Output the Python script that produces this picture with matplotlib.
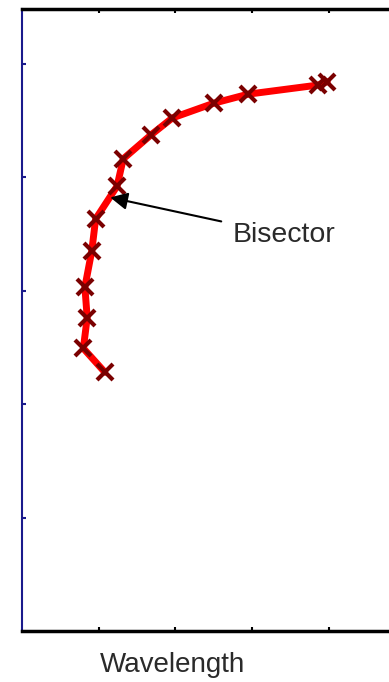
import matplotlib
matplotlib.use("Agg")
import matplotlib.pyplot as plt

# bisector points (arbitrary units)
bis_x = [1.08, 0.80, 0.85, 0.82, 0.91, 0.96, 1.24, 1.32, 1.68, 1.96, 2.50, 2.95, 3.86, 3.98]
bis_y = [2.28, 2.49, 2.76, 3.03, 3.35, 3.63, 3.92, 4.16, 4.37, 4.52, 4.65, 4.73, 4.81, 4.84]

x_ticks = [1, 2, 3, 4]
y_ticks = [1, 2, 3, 4, 5]

fig = plt.figure(figsize=(3.89, 6.82), dpi=100)
ax = fig.add_axes([22 / 389, 51 / 682, 1 - 22 / 389, 622 / 682])

ax.plot(bis_x, bis_y, color="#ff0000", lw=5, solid_capstyle="round", zorder=2)
ax.plot(bis_x, bis_y, ls="none", marker="x", ms=12, mew=3, color="#7a0000", zorder=3)

ax.annotate("Bisector", xy=(1.15, 3.82), xytext=(2.74, 3.49),
            fontsize=20.5, color="#2a2a2a", family=["Liberation Sans", "DejaVu Sans"],
            va="center", ha="left",
            arrowprops=dict(arrowstyle="-|>", color="black", lw=1.5,
                            mutation_scale=26, shrinkA=6, shrinkB=0))

ax.set_xlim(0, 367 / 76.7)
ax.set_ylim(0, 622 / 113.5)
ax.set_xticks(x_ticks)
ax.set_yticks(y_ticks)
ax.set_xticklabels([])
ax.set_yticklabels([])
ax.tick_params(axis="x", direction="in", length=3, width=1.5, colors="black", top=True)
ax.tick_params(axis="y", direction="in", length=3, width=1.5, colors="#1a1a8c", right=False)

ax.spines["top"].set_linewidth(2.5)
ax.spines["bottom"].set_linewidth(2.5)
ax.spines["left"].set_color("#1a1a8c")
ax.spines["left"].set_linewidth(1.5)
ax.spines["right"].set_visible(False)

fig.text(173 / 389, 1 - 665 / 682, "Wavelength", fontsize=20, color="#2a2a2a",
         family=["Liberation Sans", "DejaVu Sans"], ha="center", va="center")

fig.savefig("out.png", dpi=100)
